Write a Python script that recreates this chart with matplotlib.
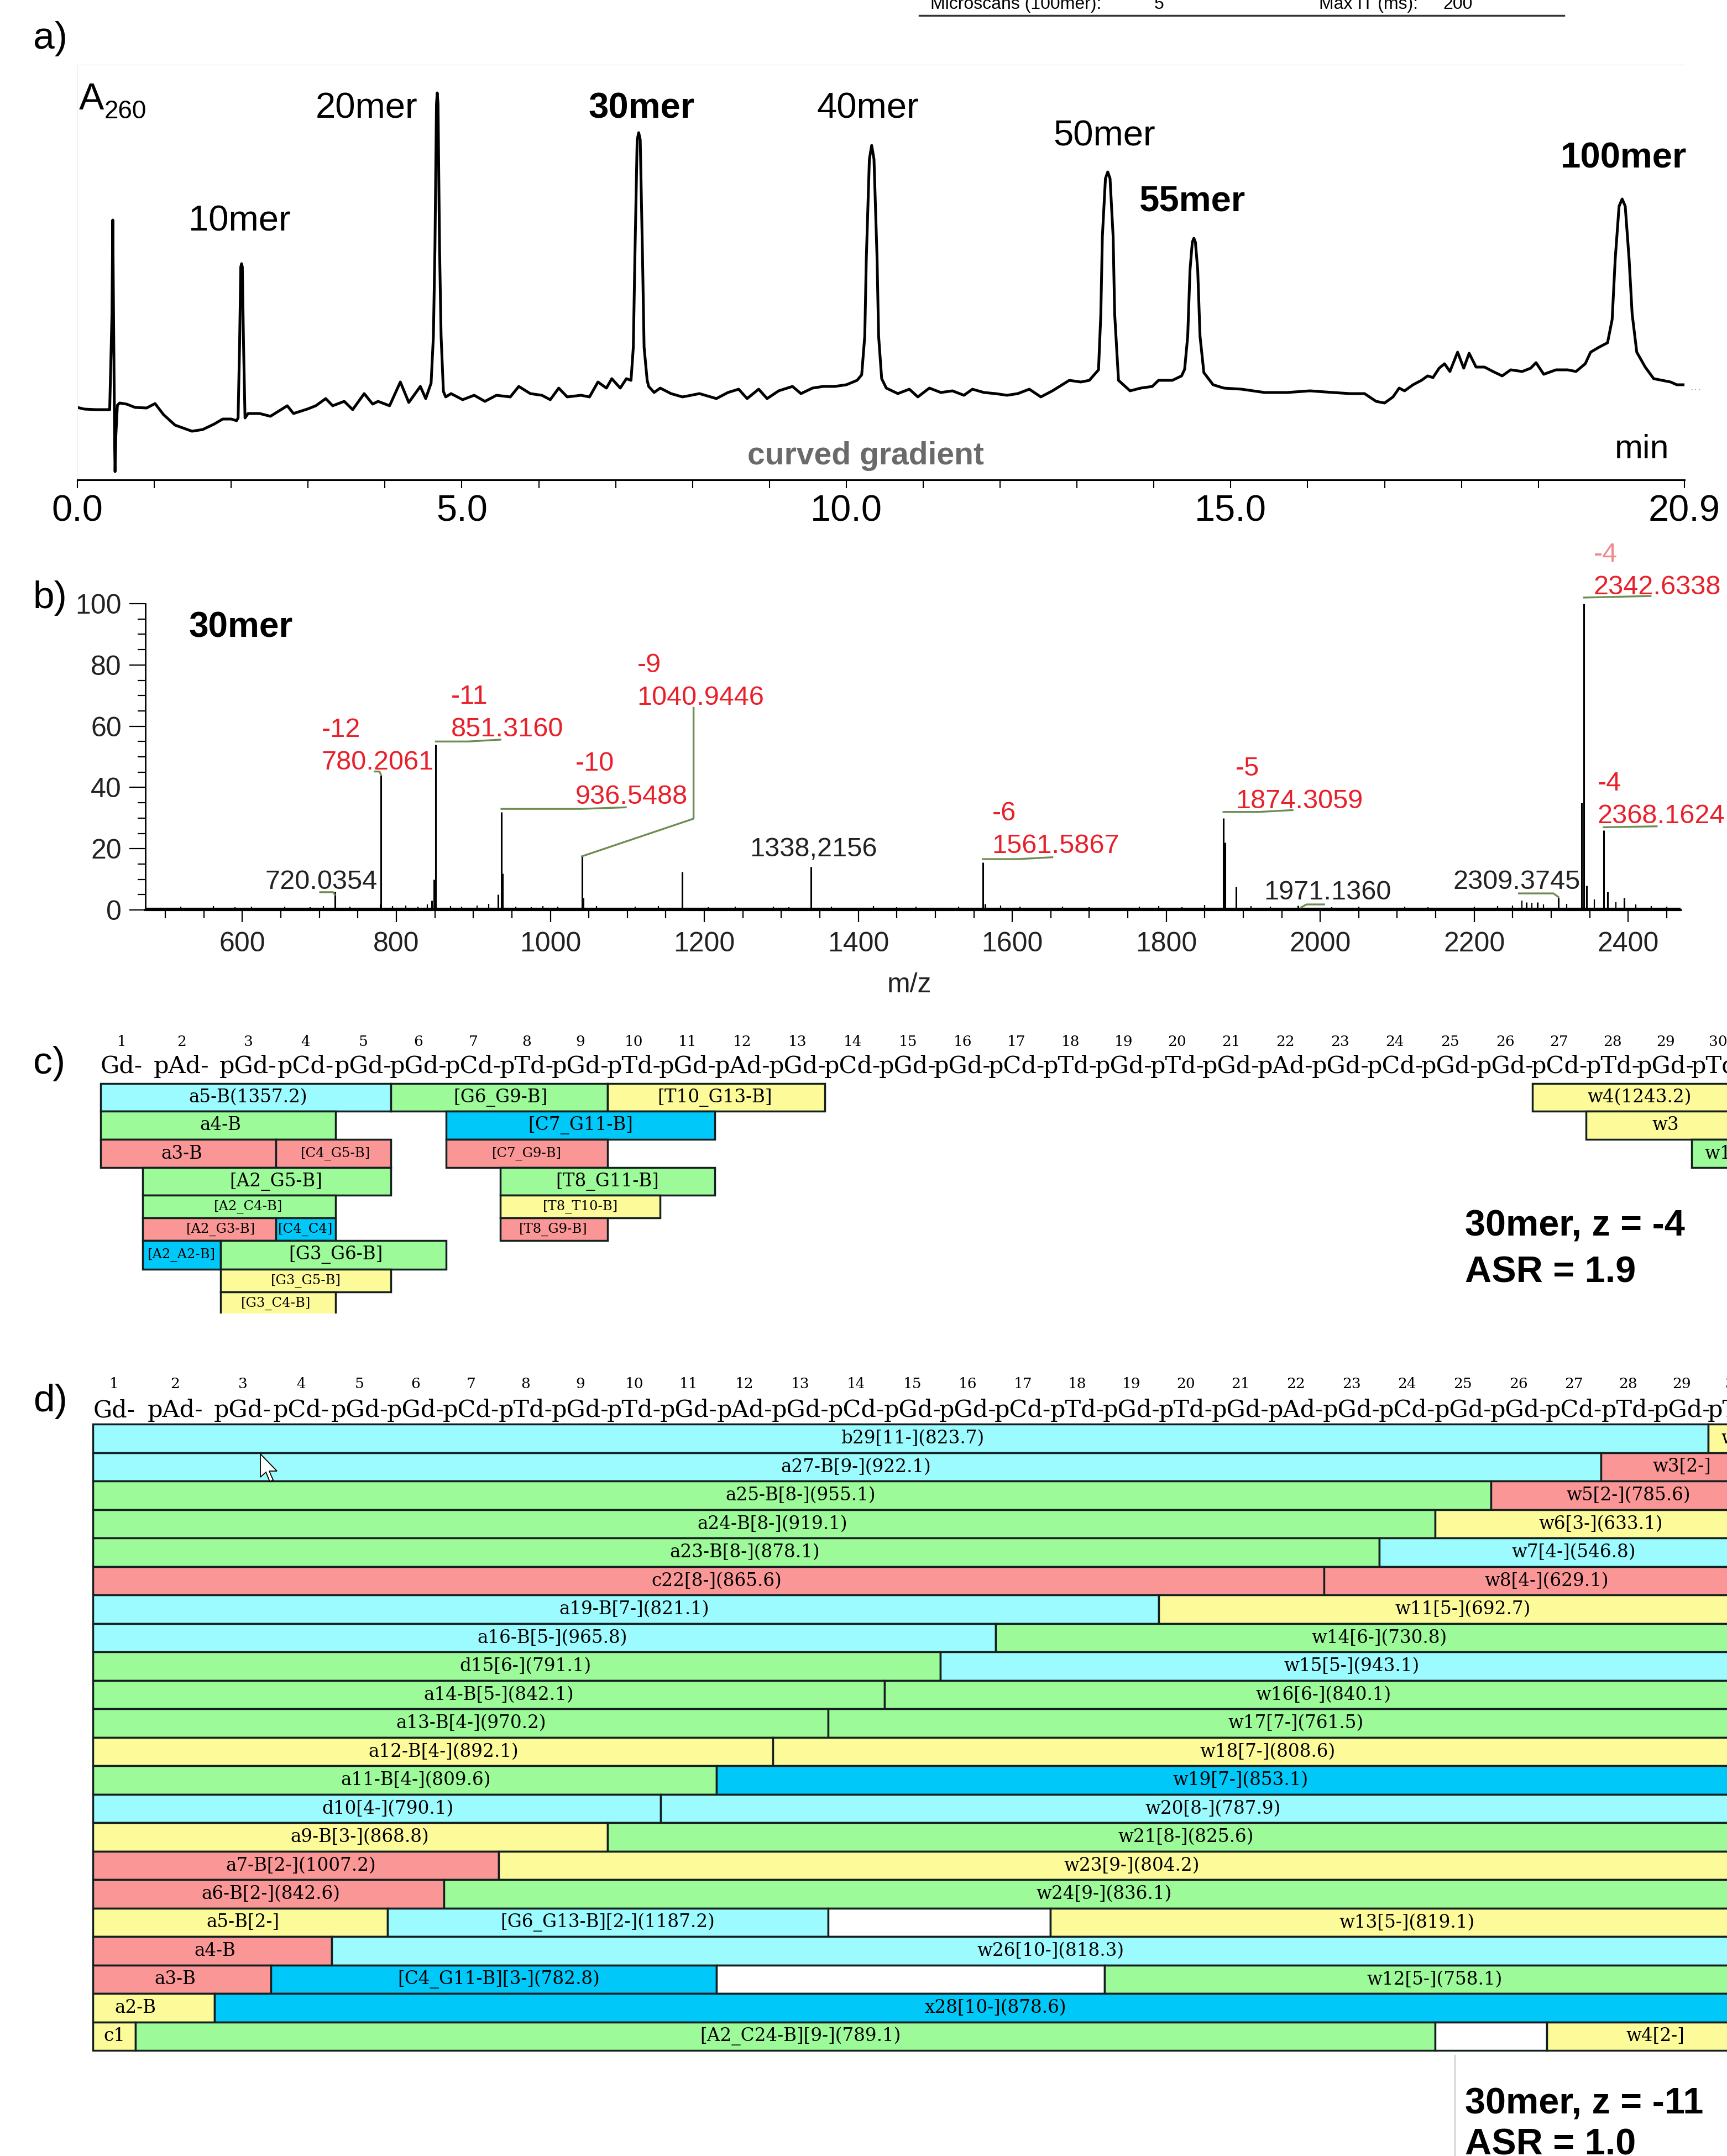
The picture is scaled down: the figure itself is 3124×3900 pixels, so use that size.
import numpy as np
import matplotlib
matplotlib.use("Agg")
import matplotlib.pyplot as plt
from matplotlib.lines import Line2D
from matplotlib.patches import Polygon
from matplotlib.transforms import blended_transform_factory

W, H = 3124, 3900
SANS = "Liberation Sans"
SERIF = "DejaVu Serif"
plt.rcParams["font.family"] = SANS

# ---------------- a) chromatogram (min, A260 arbitrary units) ----------------
rt_min = [0.00, 0.09, 0.24, 0.42, 0.45, 0.46, 0.47, 0.485, 0.49, 0.50, 0.52, 0.55, 0.64, 0.75,
          0.90, 1.01, 1.12, 1.27, 1.49, 1.63, 1.78, 1.89, 2.00, 2.07,
          2.09, 2.11, 2.125, 2.135, 2.145, 2.16, 2.18,
          2.22, 2.37, 2.51, 2.73, 2.81, 2.99, 3.10, 3.23, 3.32, 3.47, 3.58, 3.73, 3.84, 3.91,
          4.06, 4.20, 4.31, 4.46, 4.53,
          4.60, 4.63, 4.65, 4.67, 4.68, 4.69, 4.71, 4.73, 4.76,
          4.79, 4.86, 5.01, 5.16, 5.30, 5.45, 5.63, 5.74, 5.89, 6.04, 6.15, 6.26, 6.37, 6.55,
          6.66, 6.77, 6.88, 6.95, 7.06, 7.14,
          7.20, 7.23, 7.25, 7.28, 7.30, 7.32, 7.35, 7.37, 7.41,
          7.43, 7.50, 7.58, 7.72, 7.87, 8.09, 8.31, 8.46, 8.60, 8.71, 8.86, 8.97, 9.12, 9.30,
          9.41, 9.56, 9.70, 9.85, 10.00, 10.14,
          10.20, 10.24, 10.26, 10.30, 10.33, 10.36, 10.40, 10.42, 10.46,
          10.52, 10.67, 10.82, 10.93, 11.08, 11.23, 11.38, 11.53, 11.64, 11.79, 11.94, 12.09,
          12.23, 12.38, 12.53, 12.68, 12.90, 13.05, 13.16,
          13.28, 13.31, 13.33, 13.37, 13.40, 13.43, 13.47, 13.49, 13.54,
          13.69, 13.83, 13.98, 14.06, 14.24, 14.36,
          14.40, 14.44, 14.47, 14.50, 14.52, 14.54, 14.57, 14.60, 14.65,
          14.77, 14.91, 15.14, 15.44, 15.73, 16.03, 16.33, 16.55, 16.74, 16.89, 17.00, 17.11,
          17.19, 17.26, 17.37, 17.48, 17.56, 17.63, 17.71, 17.78, 17.85, 17.95, 18.03, 18.10,
          18.19, 18.30, 18.41, 18.53, 18.64, 18.79, 18.90, 18.97, 19.07, 19.23, 19.38, 19.49,
          19.61, 19.68, 19.79,
          19.90, 19.96, 20.00, 20.05, 20.09, 20.13, 20.18, 20.22, 20.28,
          20.39, 20.50, 20.61, 20.72, 20.80, 20.89]
a260 = [131, 128, 127, 127, 300, 470, 300, 60, 15, 80, 135, 139, 137, 131,
        130, 138, 118, 99, 88, 91, 101, 110, 110, 107,
        112, 250, 385, 391, 385, 250, 112,
        120, 120, 115, 134, 120, 128, 134, 147, 134, 142, 127, 156, 137, 142,
        134, 177, 140, 169, 147,
        175, 260, 420, 680, 700, 680, 420, 260, 160,
        150, 156, 145, 153, 142, 153, 150, 169, 156, 153, 145, 166, 150, 153,
        150, 177, 166, 183, 166, 183,
        180, 240, 400, 615, 628, 615, 400, 240, 180,
        169, 158, 166, 156, 150, 156, 147, 158, 164, 147, 164, 147, 161, 169,
        156, 166, 169, 169, 172, 180,
        190, 260, 400, 580, 605, 580, 400, 260, 183,
        166, 156, 164, 150, 166, 158, 161, 153, 164, 158, 156, 153,
        156, 164, 150, 161, 180, 177, 180,
        199, 300, 440, 545, 557, 545, 440, 300, 180,
        161, 166, 169, 180, 180, 188,
        200, 260, 380, 430, 437, 430, 380, 260, 194,
        172, 166, 164, 158, 158, 161, 158, 156, 156, 142, 139, 150,
        166, 161, 172, 180, 188, 185, 202, 210, 196, 231, 202, 229,
        204, 204, 196, 188, 199, 196, 202, 212, 191, 199, 199, 196,
        210, 231, 240,
        248, 290, 400, 495, 508, 495, 400, 300, 231,
        204, 183, 180, 177, 172, 172]

peak_names = ["10mer", "20mer", "30mer", "40mer", "50mer", "55mer", "100mer"]
peak_label_rt = [2.11, 3.76, 7.34, 10.28, 13.36, 14.50, 20.11]
peak_label_a = [451, 654, 654, 654, 605, 486, 565]
peak_bold = [False, False, True, False, False, True, True]

# ---------------- b) mass spectrum ----------------
ms_mz = [720.04, 779.0, 780.21, 846.0, 849.0, 851.32, 932.0, 936.55, 937.5, 1040.94, 1042.5,
         1171.5, 1338.22, 1561.59, 1564.5, 1874.31, 1876.0, 1891.0, 1971.14, 2268.0, 2282.0,
         2309.37, 2339.5, 2342.63, 2346.0, 2368.16, 2373.0, 2395.0]
ms_int = [6.0, 2.0, 44.0, 3.0, 10.0, 54.0, 5.0, 32.0, 12.0, 17.5, 4.0,
          12.5, 14.0, 15.5, 2.0, 30.0, 22.0, 7.5, 1.5, 2.5, 2.5,
          4.0, 35.0, 100.0, 8.0, 26.0, 6.0, 4.0]
noise_mz = [520, 545, 562, 590, 612, 640, 655, 688, 705, 740, 760, 795, 812, 828, 840, 870, 885,
            905, 920, 955, 975, 990, 1010, 1060, 1085, 1110, 1140, 1205, 1240, 1262, 1290, 1310,
            1365, 1395, 1420, 1450, 1475, 1500, 1530, 1585, 1610, 1640, 1665, 1700, 1730, 1765,
            1790, 1820, 1850, 1910, 1935, 1955, 2015, 2050, 2080, 2110, 2140, 2170, 2200, 2230,
            2250, 2262, 2275, 2290, 2320, 2356, 2384, 2410, 2430, 2450]
noise_int = [1.0, 0.8, 1.2, 0.9, 1.0, 0.7, 1.1, 0.9, 1.3, 1.0, 0.8, 1.2, 1.5, 1.0, 1.8, 1.2, 1.0,
             1.4, 2.0, 1.1, 0.9, 1.2, 1.0, 1.3, 0.8, 1.0, 1.2, 0.9, 1.1, 0.8, 1.0, 0.9,
             1.0, 0.8, 1.2, 0.9, 1.1, 0.8, 1.0, 1.4, 1.0, 0.8, 1.1, 0.9, 0.8, 1.0,
             1.3, 0.9, 1.6, 1.2, 1.0, 0.8, 0.9, 1.0, 0.8, 1.1, 0.9, 0.8, 1.0, 1.2,
             1.5, 3.0, 2.4, 1.8, 2.0, 3.5, 2.5, 1.8, 1.2, 1.0]

ann_charge = ["", "-12", "-11", "-10", "-9", "", "-6", "-5", "", "", "-4", "-4"]
ann_value = ["720.0354", "780.2061", "851.3160", "936.5488", "1040.9446", "1338,2156",
             "1561.5867", "1874.3059", "1971.1360", "2309.3745", "2342.6338", "2368.1624"]
ann_x = [629.4, 702.7, 870.7, 1032.3, 1112.7, 1259.2, 1573.8, 1889.8, 1927.1, 2172.7, 2355.1, 2360.2]
ann_y = [6.9, 45.8, 56.7, 34.7, 67.0, 17.5, 18.6, 33.2, 3.4, 6.9, 103.0, 28.3]
leaders = [
    [(701, 5.8), (718, 5.8), (720.0, 5.0)],
    [(772, 45.2), (778, 45.2), (780.2, 44.0)],
    [(851.3, 55.0), (893, 55.0), (935, 55.6)],
    [(936.5, 33.0), (1040, 33.0), (1098, 33.5)],
    [(1040.9, 17.5), (1186, 29.8), (1186, 66.0)],
    [(1561.6, 16.6), (1607, 16.6), (1652, 17.2)],
    [(1874.3, 32.0), (1920, 32.0), (1964, 32.6)],
    [(1975, 0.8), (1982, 1.8), (2005, 1.8)],
    [(2258, 5.4), (2303, 5.4), (2309.4, 4.2)],
    [(2342.6, 102.0), (2429, 102.5)],
    [(2368.2, 27.0), (2437, 27.3)],
]

# ---------------- c), d) fragment maps ----------------
SEQUENCE = "GAGCGGCTGTGAGCGGCTGTGAGCGGCTGT"

c_label = ["a5-B(1357.2)", "[G6_G9-B]", "[T10_G13-B]", "w4(1243.2)",
           "a4-B", "[C7_G11-B]", "w3",
           "a3-B", "[C4_G5-B]", "[C7_G9-B]", "w1",
           "[A2_G5-B]", "[T8_G11-B]",
           "[A2_C4-B]", "[T8_T10-B]",
           "[A2_G3-B]", "[C4_C4]", "[T8_G9-B]",
           "[A2_A2-B]", "[G3_G6-B]",
           "[G3_G5-B]",
           "[G3_C4-B]"]
c_start = [1, 6, 10, 27, 1, 7, 28, 1, 4, 7, 30, 2, 8, 2, 8, 2, 4, 8, 2, 3, 3, 3]
c_end = [5, 9, 13, 30, 4, 11, 30, 3, 5, 9, 30, 5, 11, 4, 10, 3, 4, 9, 2, 6, 5, 4]
c_row = [1, 1, 1, 1, 2, 2, 2, 3, 3, 3, 3, 4, 4, 5, 5, 6, 6, 6, 7, 7, 8, 9]
c_color = ["cy", "gr", "ye", "ye", "gr", "bl", "ye", "pk", "pk", "pk", "gr", "gr", "gr",
           "gr", "ye", "pk", "bl", "pk", "bl", "gr", "ye", "ye"]
c_fontsize = [23.5, 23.5, 23.5, 23.5, 23.5, 23.5, 23.5, 23.5, 17.5, 17.5, 23.5, 23.5, 23.5,
              17.5, 17.5, 17.5, 17.5, 17.5, 17.5, 23.5, 17.5, 17.5]

d_label = ["b29[11-](823.7)", "w1",
           "a27-B[9-](922.1)", "w3[2-]",
           "a25-B[8-](955.1)", "w5[2-](785.6)",
           "a24-B[8-](919.1)", "w6[3-](633.1)",
           "a23-B[8-](878.1)", "w7[4-](546.8)",
           "c22[8-](865.6)", "w8[4-](629.1)",
           "a19-B[7-](821.1)", "w11[5-](692.7)",
           "a16-B[5-](965.8)", "w14[6-](730.8)",
           "d15[6-](791.1)", "w15[5-](943.1)",
           "a14-B[5-](842.1)", "w16[6-](840.1)",
           "a13-B[4-](970.2)", "w17[7-](761.5)",
           "a12-B[4-](892.1)", "w18[7-](808.6)",
           "a11-B[4-](809.6)", "w19[7-](853.1)",
           "d10[4-](790.1)", "w20[8-](787.9)",
           "a9-B[3-](868.8)", "w21[8-](825.6)",
           "a7-B[2-](1007.2)", "w23[9-](804.2)",
           "a6-B[2-](842.6)", "w24[9-](836.1)",
           "a5-B[2-]", "[G6_G13-B][2-](1187.2)", "", "w13[5-](819.1)",
           "a4-B", "w26[10-](818.3)",
           "a3-B", "[C4_G11-B][3-](782.8)", "", "w12[5-](758.1)",
           "a2-B", "x28[10-](878.6)",
           "c1", "[A2_C24-B][9-](789.1)", "", "w4[2-]"]
d_start = [1, 30, 1, 28, 1, 26, 1, 25, 1, 24, 1, 23, 1, 20, 1, 17, 1, 16, 1, 15, 1, 14, 1, 13,
           1, 12, 1, 11, 1, 10, 1, 8, 1, 7, 1, 6, 14, 18, 1, 5, 1, 4, 12, 19, 1, 3, 1, 2, 25, 27]
d_end = [29, 30, 27, 30, 25, 30, 24, 30, 23, 30, 22, 30, 19, 30, 16, 30, 15, 30, 14, 30, 13, 30,
         12, 30, 11, 30, 10, 30, 9, 30, 7, 30, 6, 30, 5, 13, 17, 30, 4, 30, 3, 11, 18, 30, 2, 30,
         1, 24, 26, 30]
d_row = [1, 1, 2, 2, 3, 3, 4, 4, 5, 5, 6, 6, 7, 7, 8, 8, 9, 9, 10, 10, 11, 11, 12, 12, 13, 13,
         14, 14, 15, 15, 16, 16, 17, 17, 18, 18, 18, 18, 19, 19, 20, 20, 20, 20, 21, 21,
         22, 22, 22, 22]
d_color = ["cy", "ye", "cy", "pk", "gr", "pk", "gr", "ye", "gr", "cy", "pk", "pk", "cy", "ye",
           "cy", "gr", "gr", "cy", "gr", "gr", "gr", "gr", "ye", "ye", "gr", "bl", "cy", "cy",
           "ye", "gr", "pk", "ye", "pk", "gr", "ye", "cy", "wh", "ye", "pk", "cy",
           "pk", "bl", "wh", "gr", "ye", "bl", "ye", "gr", "wh", "ye"]

# ---------------- layout / style ----------------
FILL = {"cy": "#9bfbff", "gr": "#9cfb98", "ye": "#fdfa9a", "pk": "#fa9696",
        "bl": "#00c8f8", "wh": "#ffffff"}
C_EDGES = [182, 258, 399, 499, 607, 707, 807, 905, 1001, 1099, 1194, 1293, 1393, 1492, 1592,
           1692, 1790, 1888, 1984, 2081, 2178, 2275, 2375, 2474, 2573, 2673, 2772, 2869, 2966,
           3060, 3155]
D_EDGES = [168 + (e - 182) * 1.0153 for e in C_EDGES]
C_ROWS = [1960, 2010, 2061, 2112, 2162, 2203, 2244, 2296, 2337, 2378]
D_ROWS = [2576 + 51.5 * k for k in range(23)]
RED = "#e8202a"
GREEN = "#6e8c52"

fig = plt.figure(figsize=(W / 100, H / 100), dpi=100)


def px_axes(left, top, right, bottom):
    return fig.add_axes([left / W, 1 - bottom / H, (right - left) / W, (bottom - top) / H])


def make_warp(idx, px):
    idx = np.asarray(idx, float)
    px = np.asarray(px, float)
    lo = (px[1] - px[0]) / (idx[1] - idx[0])
    hi = (px[-1] - px[-2]) / (idx[-1] - idx[-2])
    idx = np.r_[idx[0] - 100, idx, idx[-1] + 100]
    px = np.r_[px[0] - 100 * lo, px, px[-1] + 100 * hi]
    return (lambda v: np.interp(v, idx, px)), (lambda v: np.interp(v, px, idx))


def fig_text(x, y, s, **kw):
    fig.text(x / W, 1 - y / H, s, va="baseline", **kw)


# ---------- header remnant ----------
fig_text(1683, 16, "Microscans (100mer):", fontsize=23)
fig_text(2088, 16, "5", fontsize=23)
fig_text(2386, 16, "Max IT (ms):", fontsize=23)
fig_text(2610, 16, "200", fontsize=23)
fig.add_artist(Line2D([1663 / W, 2829 / W], [1 - 28 / H] * 2, color="#333333", lw=2.5))

for lab, y in [("a)", 88), ("b)", 1100), ("c)", 1942), ("d)", 2553)]:
    fig_text(60, y, lab, fontsize=50)

# ---------- a) ----------
axa = px_axes(140, 117, 3047, 868)
axa.plot(rt_min, a260, color="black", lw=3.6, solid_joinstyle="round")
axa.set_xlim(0, 20.9)
axa.set_ylim(0, 751)
axa.spines["right"].set_visible(False)
axa.spines["top"].set_color("#ececec")
axa.spines["left"].set_color("#ececec")
axa.spines["bottom"].set_linewidth(2.2)
axa.set_yticks([])
axa.set_xticks([0, 5, 10, 15, 20.9])
axa.set_xticklabels(["0.0", "5.0", "10.0", "15.0", "20.9"])
axa.set_xticks([t for t in range(1, 21) if t % 5], minor=True)
axa.tick_params(axis="x", which="both", direction="out", length=11, width=1.5,
                labelsize=48, pad=8)
for name, t, a, bold in zip(peak_names, peak_label_rt, peak_label_a, peak_bold):
    axa.text(t, a, name, ha="center", va="baseline", fontsize=47,
             fontweight="bold" if bold else "normal")
axa.text(0.02, 670, "A", ha="left", va="baseline", fontsize=49)
axa.text(0.35, 654, "260", ha="left", va="baseline", fontsize=33)
axa.text(10.25, 28, "curved gradient", ha="center", va="baseline", fontsize=41,
         fontweight="bold", color="#6a6a6a")
axa.text(20.35, 39, "min", ha="center", va="baseline", fontsize=44)
axa.text(21.05, 162, "···", ha="center", va="center", fontsize=16, color="#aaaaaa",
         clip_on=False)

# ---------- b) ----------
axb = px_axes(263, 1092, 3040, 1646)
axb.set_xlim(474, 2468)
axb.set_ylim(0, 100)
axb.vlines(noise_mz, 0, noise_int, color="black", lw=1.6)
axb.vlines(ms_mz, 0, ms_int, color="black", lw=2.2, clip_on=False)
axb.axhline(0.35, color="black", lw=3.0)
for path in leaders:
    xs, ys = zip(*path)
    axb.plot(xs, ys, color=GREEN, lw=2.4, clip_on=False, zorder=3)
for ch, val, x, y in zip(ann_charge, ann_value, ann_x, ann_y):
    col = RED if ch else "#222222"
    axb.text(x, y, val, color=col, fontsize=35, ha="left", va="baseline", zorder=4)
    if ch:
        ccol = "#ef8a90" if y > 100 else RED
        axb.text(x, y + 10.7, ch, color=ccol, fontsize=35, ha="left", va="baseline", zorder=4)
axb.text(530, 89, "30mer", fontsize=46, fontweight="bold", ha="left", va="baseline")
axb.text(1466, -26.9, "m/z", fontsize=36, ha="center", va="baseline", color="#222222")
axb.spines["top"].set_visible(False)
axb.spines["right"].set_visible(False)
axb.spines["left"].set_linewidth(2.0)
axb.spines["bottom"].set_linewidth(3.0)
axb.set_xticks(range(600, 2401, 200))
axb.set_xticks([m for m in range(500, 2451, 50) if m % 200], minor=True)
axb.set_yticks(range(0, 101, 20))
axb.set_yticks([v for v in range(5, 100, 5) if v % 20], minor=True)
axb.tick_params(axis="x", which="major", direction="out", length=16, width=1.6,
                labelsize=36, pad=12, labelcolor="#222222")
axb.tick_params(axis="x", which="minor", direction="out", length=11, width=1.6)
axb.tick_params(axis="y", which="major", direction="out", length=21, width=1.6,
                labelsize=36, pad=10, labelcolor="#222222")
axb.tick_params(axis="y", which="minor", direction="out", length=10, width=1.6)


# ---------- c), d) ----------
def sequence_panel(top, bottom, edges, row_edges, num_y, res_y,
                   labels, starts, ends, rows, colors, sizes):
    ax = px_axes(150, top, W, bottom)
    fx, ix = make_warp(np.arange(len(edges)) + 0.5, edges)
    fy, iy = make_warp(np.arange(len(row_edges)) + 0.5, row_edges)
    ax.set_xscale("function", functions=(fx, ix))
    ax.set_yscale("function", functions=(fy, iy))
    ax.set_xlim(float(ix(150)), float(ix(W)))
    ax.set_ylim(float(iy(bottom)), float(iy(top)))
    ax.axis("off")
    starts = np.asarray(starts, float)
    ends = np.asarray(ends, float)
    ax.barh(rows, ends - starts + 1, left=starts - 0.5, height=1.0,
            color=[FILL[c] for c in colors], edgecolor="#142020", linewidth=2.5)
    for lab, s, e, r, fs in zip(labels, starts, ends, rows, sizes):
        if lab:
            ax.text((s + e) / 2, r, lab, ha="center", va="center", fontsize=fs,
                    family=SERIF, clip_on=True)
    trans = blended_transform_factory(ax.transData, fig.transFigure)
    for i, base in enumerate(SEQUENCE, start=1):
        ax.text(i, 1 - num_y / H, str(i), transform=trans, ha="center", va="baseline",
                fontsize=19, family=SERIF)
        res = base + "d-" if i == 1 else "p" + base + "d-"
        ax.text(i, 1 - res_y / H, res, transform=trans, ha="center", va="baseline",
                fontsize=31, family=SERIF)
    return ax


sequence_panel(1955, 2376, C_EDGES, C_ROWS, 1892, 1941,
               c_label, c_start, c_end, c_row, c_color, c_fontsize)
sequence_panel(2570, 3715, D_EDGES, D_ROWS, 2511, 2563,
               d_label, d_start, d_end, d_row, d_color, [23.5] * len(d_label))

fig_text(2650, 2236, "30mer, z = -4", fontsize=48, fontweight="bold")
fig_text(2650, 2319, "ASR = 1.9", fontsize=48, fontweight="bold")
fig_text(2650, 3824, "30mer, z = -11", fontsize=48, fontweight="bold")
fig_text(2650, 3898, "ASR = 1.0", fontsize=48, fontweight="bold")
fig.add_artist(Line2D([2632 / W] * 2, [1 - 3718 / H, 0], color="#c8c8c8", lw=1.5))

# mouse pointer left in the screenshot
cursor = [(0, 0), (0, 42), (10, 33), (17, 50), (23, 47), (16, 31), (30, 31)]
fig.add_artist(Polygon([((471 + dx) / W, 1 - (2630 + dy) / H) for dx, dy in cursor],
                       closed=True, facecolor="white", edgecolor="black", lw=1.3, zorder=10))

fig.savefig("out.png", dpi=100)
